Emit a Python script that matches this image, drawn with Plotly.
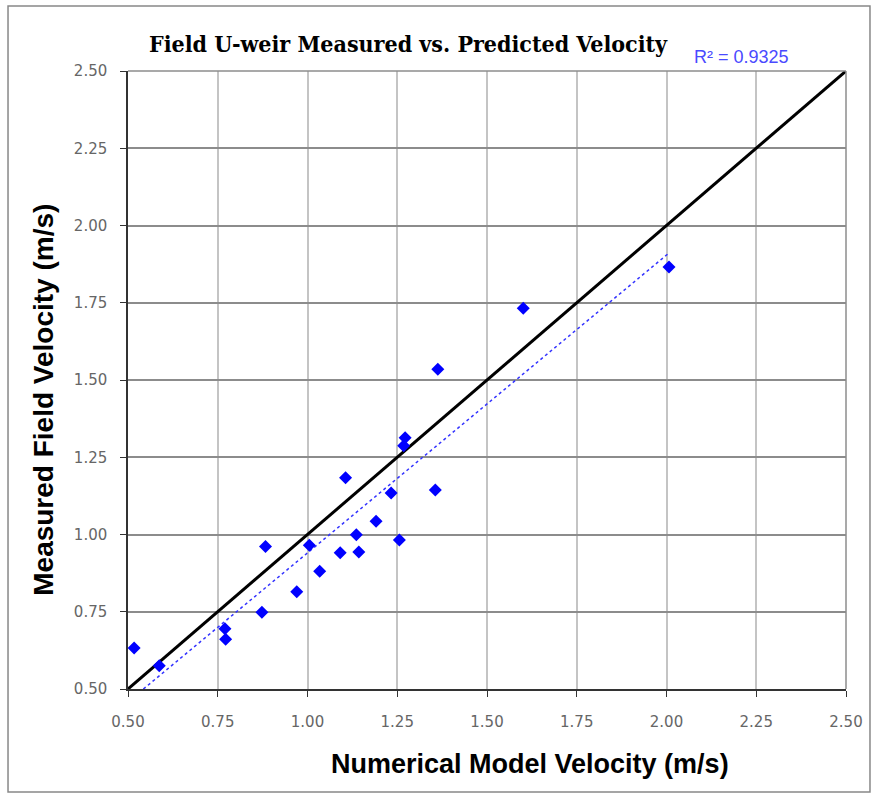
import numpy as np
import plotly.graph_objects as go

# Data
model_velocity = [0.517, 0.587, 0.770, 0.772, 0.873, 0.883, 0.970, 1.005, 1.034, 1.091,
                  1.106, 1.136, 1.143, 1.191, 1.233, 1.256, 1.272, 1.268, 1.356, 1.363,
                  1.601, 2.007]
field_velocity = [0.633, 0.575, 0.695, 0.661, 0.748, 0.961, 0.815, 0.965, 0.881, 0.941,
                  1.184, 0.999, 0.943, 1.043, 1.134, 0.982, 1.313, 1.287, 1.144, 1.535,
                  1.732, 1.866]
one_to_one = [0.5, 2.5]
tick_vals = [0.50, 0.75, 1.00, 1.25, 1.50, 1.75, 2.00, 2.25, 2.50]
tick_text = ["0.50", "0.75", "1.00", "1.25", "1.50", "1.75", "2.00", "2.25", "2.50"]
r2_label = "R\u00b2 = 0.9325"

slope, intercept = np.polyfit(model_velocity, field_velocity, 1)
trend_x = [min(model_velocity), max(model_velocity)]
trend_y = [slope * v + intercept for v in trend_x]

fig = go.Figure()
fig.add_trace(go.Scatter(x=one_to_one, y=one_to_one, mode="lines",
                         line=dict(color="black", width=3), showlegend=False))
fig.add_trace(go.Scatter(x=trend_x, y=trend_y, mode="lines",
                         line=dict(color="#3333ff", width=1.5, dash="dot"), showlegend=False))
fig.add_trace(go.Scatter(x=model_velocity, y=field_velocity, mode="markers",
                         marker=dict(symbol="diamond", size=10, color="#0000ff"),
                         showlegend=False, cliponaxis=False))

axis_common = dict(range=[0.5, 2.5], tickvals=tick_vals, ticktext=tick_text,
                   showgrid=True, zeroline=False, ticks="outside", ticklen=6,
                   tickcolor="#333333", showline=True, linecolor="#333333", linewidth=1.5,
                   automargin=False,
                   tickfont=dict(family="DejaVu Sans", size=15, color="#666666"))

fig.update_xaxes(**axis_common, gridcolor="#c4c4c4", gridwidth=2, ticklabelstandoff=12)
fig.update_yaxes(**axis_common, gridcolor="#8c8c8c", gridwidth=1.5, ticklabelstandoff=10)

fig.update_layout(
    width=871, height=795,
    margin=dict(l=128, r=25, t=71, b=106),
    plot_bgcolor="white", paper_bgcolor="white",
    annotations=[
        dict(text="<b>Field U-weir Measured vs. Predicted Velocity</b>", x=0.39, y=1.045,
             xref="paper", yref="paper", showarrow=False, xanchor="center", yanchor="middle",
             font=dict(family="DejaVu Serif Condensed, DejaVu Serif", size=23, color="black")),
        dict(text=r2_label, x=0.855, y=1.0227, xref="paper", yref="paper", showarrow=False,
             xanchor="center", yanchor="middle",
             font=dict(family="Liberation Sans, Arial", size=18, color="#4a4aff")),
        dict(text="<b>Numerical Model Velocity (m/s)</b>", x=0.56, y=-0.121,
             xref="paper", yref="paper", showarrow=False, xanchor="center", yanchor="middle",
             font=dict(family="Liberation Sans, Arial", size=27, color="black")),
        dict(text="<b>Measured Field Velocity (m/s)</b>", x=-0.117, y=0.468, textangle=-90,
             xref="paper", yref="paper", showarrow=False, xanchor="center", yanchor="middle",
             font=dict(family="Liberation Sans, Arial", size=28, color="black")),
    ],
    shapes=[
        dict(type="rect", xref="paper", yref="paper", x0=-0.1671, x1=1.0334, y0=-0.1667, y1=1.1052,
             line=dict(color="#888888", width=1.5), layer="below"),
        dict(type="line", xref="paper", yref="paper", x0=0, x1=1, y0=1, y1=1,
             line=dict(color="#8c8c8c", width=1.5)),
        dict(type="line", xref="paper", yref="paper", x0=1, x1=1, y0=0, y1=1,
             line=dict(color="#8c8c8c", width=1.5)),
    ],
)

fig.write_html("out.html")
